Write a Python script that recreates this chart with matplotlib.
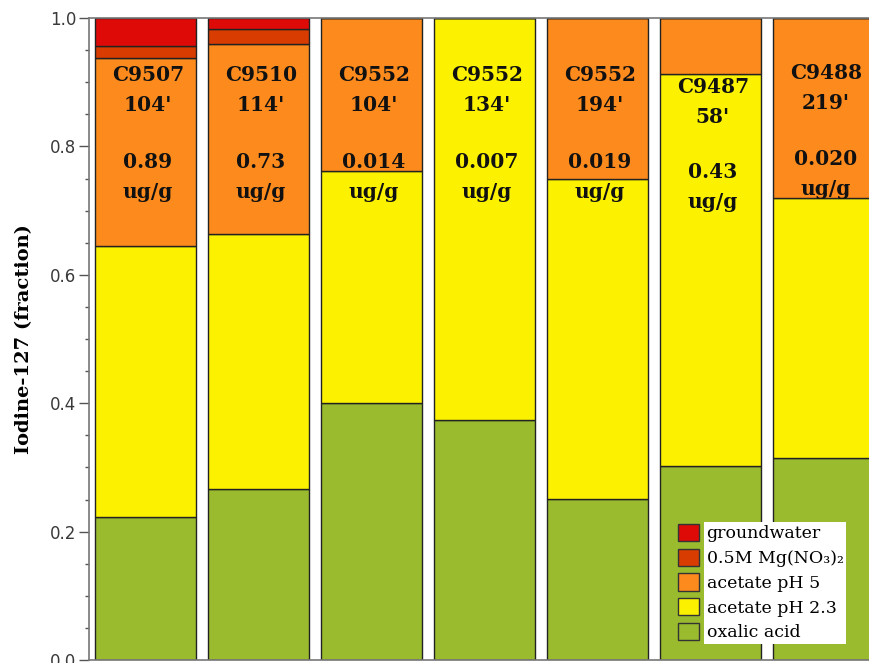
import matplotlib
matplotlib.use('Agg')
import matplotlib.pyplot as plt
import matplotlib.patches as mpatches
from matplotlib.transforms import Bbox
import numpy as np

# iodine-127 fractions per extraction step, one entry per sediment sample
cores = ["C9507", "C9510", "C9552", "C9552", "C9552", "C9487", "C9488"]
depths = ["104'", "114'", "104'", "134'", "194'", "58'", "219'"]
totals = ["0.89", "0.73", "0.014", "0.007", "0.019", "0.43", "0.020"]

oxalic = [0.222, 0.266, 0.401, 0.374, 0.251, 0.302, 0.314]
acetate23 = [0.423, 0.397, 0.360, 0.626, 0.498, 0.611, 0.406]
acetate5 = [0.292, 0.297, 0.239, 0.000, 0.251, 0.087, 0.280]
mgno3 = [0.019, 0.023, 0.000, 0.000, 0.000, 0.000, 0.000]
groundwater = [0.044, 0.017, 0.000, 0.000, 0.000, 0.000, 0.000]

steps = [
    ("oxalic acid", oxalic, '#9BBB2F'),
    ("acetate pH 2.3", acetate23, '#FCF200'),
    ("acetate pH 5", acetate5, '#FC8A1D'),
    ("0.5M Mg(NO\u2083)\u2082", mgno3, '#D83C00'),
    ("groundwater", groundwater, '#DD0A08'),
]

# heights of the sample-name and concentration labels
name_y = [0.888, 0.888, 0.888, 0.888, 0.888, 0.869, 0.891]
conc_y = [0.752, 0.752, 0.752, 0.752, 0.752, 0.737, 0.757]

fig = plt.figure(figsize=(8.69, 6.63), dpi=100)
ax = fig.add_axes([89/869, 3/663, 780/869, 642/663])

index = np.arange(len(cores))
bottom = np.zeros(len(cores))
handles = []
for name, vals, col in steps:
    vals = np.array(vals)
    ax.bar(index, vals, 0.9, bottom=bottom, color=col, edgecolor='#222222', linewidth=1.0)
    bottom += vals
    handles.append(mpatches.Patch(facecolor=col, edgecolor='#333333', linewidth=1.0, label=name))

txt = dict(ha='center', va='center', fontsize=14.5, fontweight='bold',
           family='DejaVu Serif', linespacing=1.65, color='#111111')
for i in index:
    ax.text(i + 0.02, name_y[i], cores[i] + "\n" + depths[i], **txt)
    ax.text(i + 0.02, conc_y[i], totals[i] + "\nug/g", **txt)

ax.set_xlim(-0.5, 6.403)
ax.set_ylim(0, 1)
ax.set_xticks([])
ax.set_yticks(np.arange(0, 1.01, 0.2))
ax.set_yticks(np.arange(0, 1.01, 0.05), minor=True)
ax.yaxis.set_major_formatter(matplotlib.ticker.FormatStrFormatter('%.1f'))
ax.tick_params(axis='y', which='major', length=7, width=1, color='#555555',
               labelsize=12, labelcolor='#3a3a3a', pad=2)
ax.tick_params(axis='y', which='minor', length=3, width=1, color='#555555')
for s in ax.spines.values():
    s.set_color('#777777')
    s.set_linewidth(1.2)
ax.spines['right'].set_visible(False)

ax.set_ylabel("Iodine-127 (fraction)", fontsize=14, fontweight='bold', family='DejaVu Serif')
ax.yaxis.set_label_coords(-0.072, 0.5)

# legend order top to bottom follows the stacking
leg = ax.legend(handles=handles[::-1], loc='upper left', bbox_to_anchor=(0.755, 0.212),
                frameon=False, borderaxespad=0, borderpad=0, labelspacing=0.36,
                handlelength=1.2, handleheight=1.15, handletextpad=0.45,
                prop={'family': 'DejaVu Serif', 'size': 12.5})
leg.set_zorder(5)

# white panel behind the legend labels only
fig.canvas.draw()
r = fig.canvas.get_renderer()
box = Bbox.union([t.get_window_extent(r) for t in leg.get_texts()])
box = Bbox.from_extents(box.x0 - 3, box.y0 - 3, box.x1 + 3, box.y1 + 3)
box = box.transformed(ax.transAxes.inverted())
ax.add_patch(mpatches.Rectangle((box.x0, box.y0), box.width, box.height,
                                transform=ax.transAxes, facecolor='white',
                                edgecolor='none', zorder=4, clip_on=False))

fig.savefig('out.png', dpi=100)
